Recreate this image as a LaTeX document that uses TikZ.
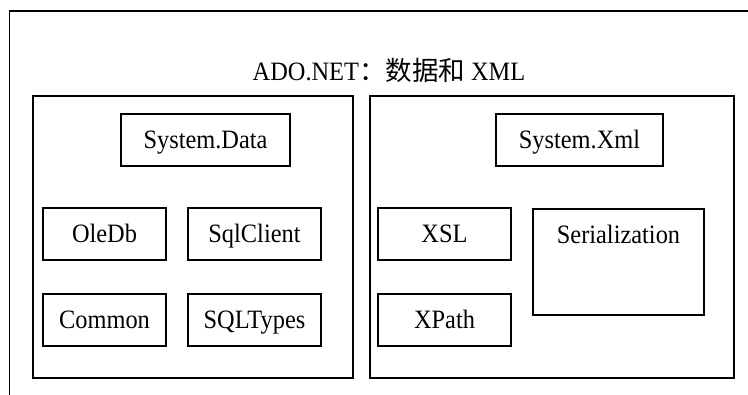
\documentclass[tikz,border=0pt]{standalone}
\usepackage{fontspec}
\setmainfont{Liberation Serif}[FakeStretch=0.92]
\newfontfamily\cjk{Noto Sans CJK SC}
\usetikzlibrary{positioning}

\tikzset{
  pkg/.style={draw, line width=2pt, minimum width=133pt, inner xsep=0pt, inner ysep=14.5pt,
    text height=20pt, text depth=3pt, font=\fontsize{26.5}{30}\selectfont},
  panel/.style={draw, line width=2pt, inner sep=0pt},
}

\begin{document}
\begin{tikzpicture}[x=1pt, y=-1pt, node distance=86pt, on grid]
    \useasboundingbox (0,0) rectangle (748,395);
    \fill[white] (0,0) rectangle (748,395);
    \begin{scope}
    \clip (0,0) rectangle (748,395);
    \draw[line width=1.8pt] (9.5,11) rectangle (800,450);
    \end{scope}

    \node[font=\fontsize{26.5}{30}\selectfont] (title) at (389,70) {ADO.NET{\cjk：数据和} XML};

    % two panels
    \node[panel, minimum width=320pt, minimum height=282pt] (datapanel) at (193,237) {};
    \node[panel, minimum width=364pt, minimum height=282pt] (xmlpanel) at (552,237) {};

    % System.Data side
    \node[pkg, minimum width=169pt] (sysdata) at (205.5,140.5) {System.Data};
    \node[pkg, minimum width=123pt] (oledb) at (104.5,234.5) {OleDb};
    \node[pkg] (sqlclient) [right=150pt of oledb] {SqlClient};
    \node[pkg, minimum width=123pt] (common) [below=86pt of oledb] {Common};
    \node[pkg] (sqltypes) [below=86pt of sqlclient] {SQLTypes};

    % System.Xml side
    \node[pkg, minimum width=167pt] (sysxml) at (579.5,140.5) {System.Xml};
    \node[pkg] (xsl) at (444.5,234.5) {XSL};
    \node[pkg] (xpath) [below=86pt of xsl] {XPath};
    \node[pkg, minimum width=171pt, text depth=57pt, anchor=north] (serial) at (618.5,208.5) {Serialization};
\end{tikzpicture}
\end{document}
